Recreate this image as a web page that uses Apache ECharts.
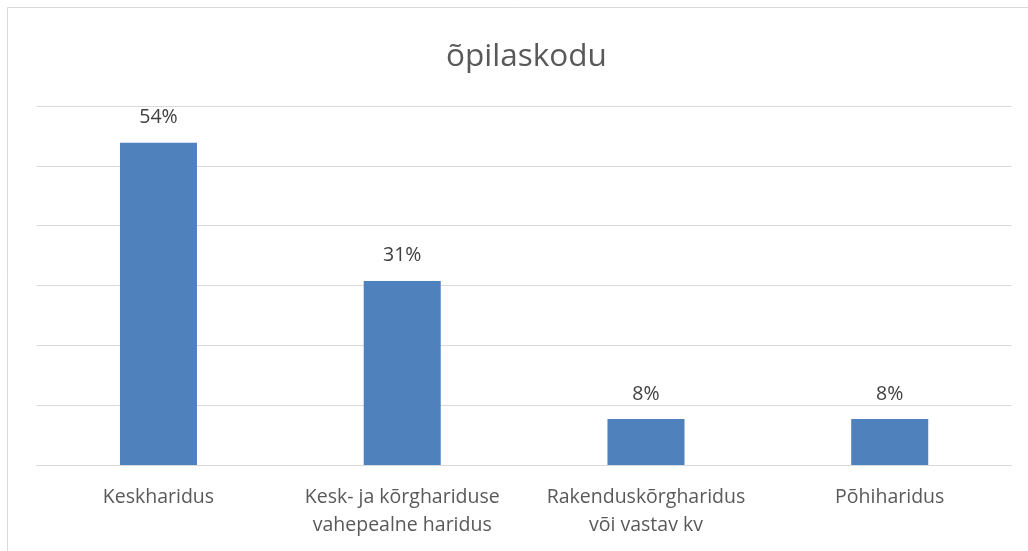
<!DOCTYPE html>
<html>
<head>
<meta charset="utf-8">
<script src="https://cdn.jsdelivr.net/npm/echarts@6/dist/echarts.min.js"></script>
<style>
  html, body { margin: 0; padding: 0; background: #fff; }
  #main { width: 1028px; height: 551px; }
</style>
</head>
<body>
<div id="main"></div>
<script>
// andmed
var categories = ['Keskharidus', 'Kesk- ja kõrghariduse\nvahepealne haridus', 'Rakenduskõrgharidus\nvõi vastav kv', 'Põhiharidus'];
var shares = [53.85, 30.77, 7.69, 7.69];   // protsent
var yTicks = [0, 10, 20, 30, 40, 50, 60];

var chart = echarts.init(document.getElementById('main'));
var font = 'Open Sans';

var option = {
    backgroundColor: '#fff',
    animation: false,
    title: {
        text: 'õpilaskodu',
        left: 441,
        top: 36,
        textStyle: { fontFamily: font, fontSize: 31.5, fontWeight: 'normal', color: '#595959' }
    },
    graphic: [{
        type: 'rect',
        shape: { x: 7.5, y: 7.5, width: 1040, height: 560 },
        style: { fill: 'none', stroke: '#d9d9d9', lineWidth: 1 },
        silent: true
    }],
    grid: { left: 36.6, right: 16.4, top: 106, bottom: 86 },
    xAxis: {
        type: 'category',
        data: categories,
        axisLine: { show: true, lineStyle: { color: '#d9d9d9', width: 1 } },
        axisTick: { show: false },
        axisLabel: { fontFamily: font, fontSize: 19.5, color: '#595959', margin: 18, lineHeight: 28, interval: 0 }
    },
    yAxis: {
        type: 'value',
        min: yTicks[0],
        max: yTicks[yTicks.length - 1],
        interval: 10,
        axisLabel: { show: false },
        axisLine: { show: false },
        axisTick: { show: false },
        splitLine: { lineStyle: { color: '#d9d9d9', width: 1 } }
    },
    series: [{
        type: 'bar',
        data: shares,
        barWidth: '31.6%',
        itemStyle: { color: '#4f81bd' },
        label: {
            show: true,
            position: 'top',
            distance: 15,
            fontFamily: font,
            fontSize: 19.5,
            color: '#404040',
            formatter: function (p) { return Math.round(p.value) + '%'; }
        }
    }]
};
chart.setOption(option);
</script>
</body>
</html>
